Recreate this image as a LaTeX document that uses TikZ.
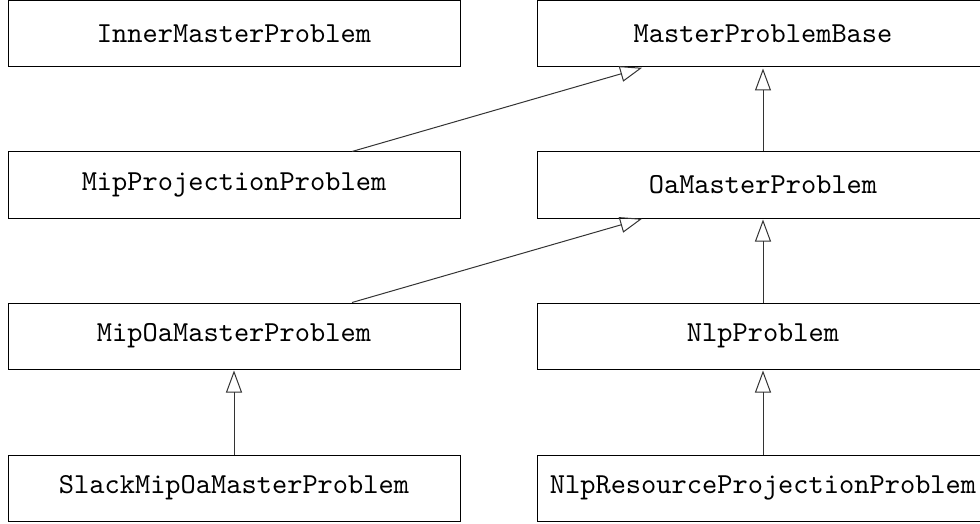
\documentclass[tikz,border=0pt]{standalone}
\usepackage{fontspec}
\newfontfamily\umlmono{lmmono10-regular.otf}
\usetikzlibrary{arrows.meta}
\begin{document}
\begin{tikzpicture}[x=1pt,y=-1pt,
  cls/.style={draw=black, line width=1pt, rectangle, minimum width=452pt, minimum height=66pt, inner sep=0pt,
    font=\umlmono\fontsize{29}{34}\selectfont},
  inh/.style={draw=black!80, line width=1pt, -{Triangle[open,length=22pt,width=16pt,line width=1pt]}, shorten >=1pt}]
\useasboundingbox (0,0) rectangle (980,524);
\node[cls] (imp) at (234,34) {InnerMasterProblem};
\node[cls] (mpb) at (763,34) {MasterProblemBase};
\node[cls] (mpp) at (234,185) {MipProjectionProblem};
\node[cls] (oam) at (763,185) {OaMasterProblem};
\node[cls] (moa) at (234,336) {MipOaMasterProblem};
\node[cls] (nlp) at (763,336) {NlpProblem};
\node[cls] (smo) at (234,488) {SlackMipOaMasterProblem};
\node[cls] (nrp) at (763,488) {NlpResourceProjectionProblem};
\draw[inh] ([xshift=118pt]mpp.north) -- ([xshift=-120pt]mpb.south);
\draw[inh] ([xshift=118pt]moa.north) -- ([xshift=-120pt]oam.south);
\draw[inh] (oam) -- (mpb);
\draw[inh] (nlp) -- (oam);
\draw[inh] (nrp) -- (nlp);
\draw[inh] (smo) -- (moa);
\end{tikzpicture}
\end{document}
